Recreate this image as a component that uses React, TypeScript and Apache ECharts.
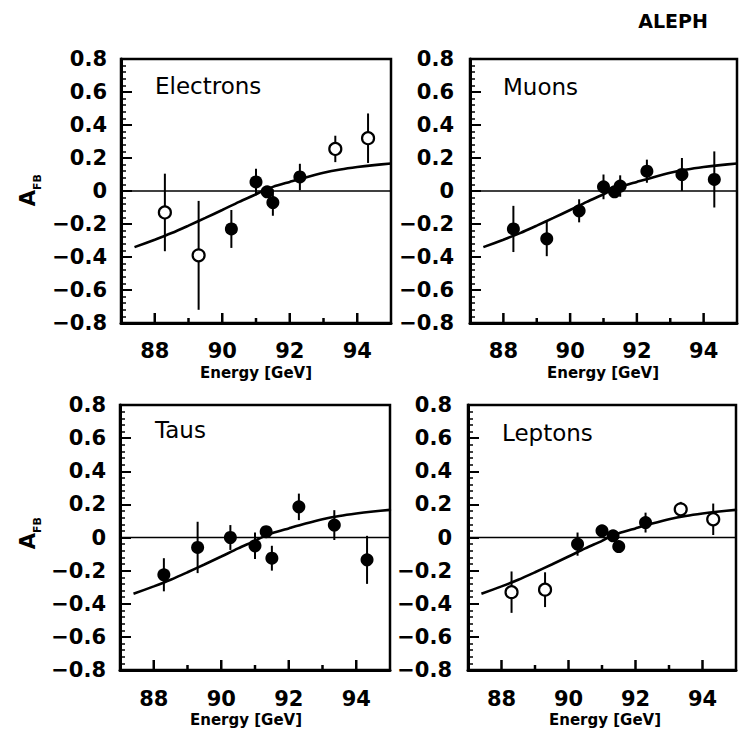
import React, { useEffect, useRef } from "react";
import * as echarts from "echarts";

// ---- data ----
const panelNames = ["Electrons", "Muons", "Taus", "Leptons"];
const energies = [88.3, 89.3, 90.27, 91.0, 91.33, 91.5, 92.3, 93.35, 94.32];

const electronsA = [-0.13, -0.39, -0.23, 0.055, -0.005, -0.07, 0.085, 0.255, 0.32];
const electronsErr = [0.235, 0.33, 0.115, 0.08, 0.03, 0.08, 0.08, 0.08, 0.15];
const electronsOpen = [true, true, false, false, false, false, false, true, true];

const muonsA = [-0.23, -0.29, -0.12, 0.025, -0.005, 0.03, 0.12, 0.1, 0.07];
const muonsErr = [0.14, 0.105, 0.07, 0.075, 0.03, 0.065, 0.07, 0.1, 0.17];
const muonsOpen = [false, false, false, false, false, false, false, false, false];

const tausA = [-0.225, -0.06, 0.0, -0.05, 0.035, -0.125, 0.185, 0.075, -0.135];
const tausErr = [0.1, 0.155, 0.075, 0.08, 0.03, 0.075, 0.08, 0.09, 0.145];
const tausOpen = [false, false, false, false, false, false, false, false, false];

const leptonsA = [-0.33, -0.315, -0.04, 0.04, 0.01, -0.055, 0.09, 0.17, 0.11];
const leptonsErr = [0.125, 0.105, 0.07, 0.03, 0.03, 0.03, 0.06, 0.045, 0.095];
const leptonsOpen = [true, true, false, false, false, false, false, true, true];

const curveE = [87.4, 88, 88.5, 89, 89.5, 90, 90.5, 91, 91.25, 91.5, 92, 92.5, 93, 93.5, 94, 94.5, 95];
const curveA = [-0.34, -0.295, -0.255, -0.21, -0.163, -0.115, -0.066, -0.02, 0.005, 0.025, 0.055, 0.084, 0.11, 0.13, 0.145, 0.157, 0.167];

const xMajorTicks = [88, 90, 92, 94];
const xMinorTicks = [89, 91, 93];
const xMin = 87;
const xMax = 95;
const yMin = -0.8;
const yMax = 0.8;

const panelA = [electronsA, muonsA, tausA, leptonsA];
const panelErr = [electronsErr, muonsErr, tausErr, leptonsErr];
const panelOpen = [electronsOpen, muonsOpen, tausOpen, leptonsOpen];

// ---- layout ----
const grids = [
  { left: 121, top: 59, width: 270, height: 264 },
  { left: 470, top: 59, width: 267, height: 264 },
  { left: 120, top: 405, width: 270, height: 265 },
  { left: 468, top: 405, width: 268, height: 265 },
];
const xLabelMargin = [17, 17, 18, 18];
const yLabelMargin = [14, 16, 14, 16];
const nameLabelPos = [
  [155, 85.5],
  [503, 86.5],
  [155, 430],
  [502, 433],
];
const energyLabelPos = [
  [256, 373],
  [603, 373],
  [246, 720],
  [605, 720],
];
const FONT = "DejaVu Sans";

function fmtY(v: number) {
  if (Math.abs(v) < 1e-9) return "0";
  return (v < 0 ? "\u2212" : "") + Math.abs(v).toFixed(1);
}

function buildOption() {
  const xAxis: any[] = [];
  const yAxis: any[] = [];
  const series: any[] = [];
  const graphic: any[] = [];

  grids.forEach((_, i) => {
    xAxis.push({
      type: "value",
      gridIndex: i,
      min: xMin,
      max: xMax,
      interval: 1,
      axisLine: { show: true, onZero: false, lineStyle: { color: "#000", width: 3 } },
      axisTick: { show: false },
      splitLine: { show: false },
      axisLabel: {
        formatter: (v: number) => (Math.round(v) % 2 === 0 ? String(Math.round(v)) : ""),
        margin: xLabelMargin[i],
        color: "#000",
        fontSize: 21,
        fontWeight: "bold",
        fontFamily: FONT,
      },
    });
    yAxis.push({
      type: "value",
      gridIndex: i,
      min: yMin,
      max: yMax,
      interval: 0.2,
      axisLine: { show: true, onZero: false, lineStyle: { color: "#000", width: 3 } },
      axisTick: { show: true, inside: true, length: 11, lineStyle: { color: "#000", width: 2 } },
      minorTick: { show: true, splitNumber: 5, length: 5, lineStyle: { color: "#000", width: 1.5 } },
      splitLine: { show: false },
      axisLabel: {
        formatter: fmtY,
        margin: yLabelMargin[i],
        color: "#000",
        fontSize: 21,
        fontWeight: "bold",
        fontFamily: FONT,
      },
    });

    const base = { xAxisIndex: i, yAxisIndex: i, silent: true };

    series.push({
      ...base,
      type: "line",
      data: [
        [xMin, 0],
        [xMax, 0],
      ],
      symbol: "none",
      lineStyle: { color: "#000", width: 1.5 },
      z: 2,
    });
    series.push({
      ...base,
      type: "line",
      data: curveE.map((e, j) => [e, curveA[j]]),
      smooth: 0.3,
      symbol: "none",
      lineStyle: { color: "#000", width: 2.6 },
      z: 3,
    });
    series.push({
      ...base,
      type: "custom",
      data: energies.map((e, j) => [e, panelA[i][j], panelErr[i][j]]),
      encode: { x: 0, y: 1 },
      renderItem: (params: any, api: any) => {
        const x = api.value(0);
        const y = api.value(1);
        const er = api.value(2);
        const p1 = api.coord([x, y - er]);
        const p2 = api.coord([x, y + er]);
        return {
          type: "line",
          shape: { x1: p1[0], y1: p1[1], x2: p2[0], y2: p2[1] },
          style: { stroke: "#000", lineWidth: 2 },
        };
      },
      z: 4,
    });
    series.push({
      ...base,
      type: "scatter",
      data: energies
        .map((e, j) => [e, panelA[i][j]])
        .filter((_, j) => !panelOpen[i][j]),
      symbol: "circle",
      symbolSize: 13,
      itemStyle: { color: "#000", opacity: 1 },
      z: 5,
    });
    const openData = energies
      .map((e, j) => [e, panelA[i][j]])
      .filter((_, j) => panelOpen[i][j]);
    if (openData.length) {
      series.push({
        ...base,
        type: "scatter",
        data: openData,
        symbol: "circle",
        symbolSize: 12,
        itemStyle: { color: "#fff", borderColor: "#000", borderWidth: 2.2, opacity: 1 },
        z: 5,
      });
    }
    const tickSeries = (ticks: number[], len: number) => ({
      ...base,
      type: "custom",
      data: ticks.map((t) => [t, yMin]),
      encode: { x: 0, y: 1 },
      renderItem: (params: any, api: any) => {
        const p = api.coord([api.value(0), api.value(1)]);
        return {
          type: "line",
          shape: { x1: p[0], y1: p[1], x2: p[0], y2: p[1] - len },
          style: { stroke: "#000", lineWidth: 2.5 },
        };
      },
      z: 6,
    });
    series.push(tickSeries(xMajorTicks, 10));
    series.push(tickSeries(xMinorTicks, 5));

    graphic.push({
      type: "text",
      x: nameLabelPos[i][0],
      y: nameLabelPos[i][1],
      style: {
        text: panelNames[i],
        fontSize: 23,
        fontFamily: FONT,
        fill: "#000",
        align: "left",
        verticalAlign: "middle",
      },
    });
    graphic.push({
      type: "text",
      x: energyLabelPos[i][0],
      y: energyLabelPos[i][1],
      style: {
        text: "Energy [GeV]",
        fontSize: 15,
        fontFamily: FONT,
        fontWeight: "bold",
        fill: "#000",
        align: "center",
        verticalAlign: "middle",
      },
    });
  });

  const afbA = [
    [28, 198],
    [28, 541],
  ];
  const afbSub = [
    [37, 182],
    [37, 525],
  ];
  afbA.forEach((p, k) => {
    graphic.push({
      type: "text",
      x: p[0],
      y: p[1],
      rotation: Math.PI / 2,
      style: {
        text: "A",
        fontSize: 21,
        fontWeight: "bold",
        fontFamily: FONT,
        fill: "#000",
        align: "center",
        verticalAlign: "middle",
      },
    });
    graphic.push({
      type: "text",
      x: afbSub[k][0],
      y: afbSub[k][1],
      rotation: Math.PI / 2,
      style: {
        text: "FB",
        fontSize: 11,
        fontWeight: "bold",
        fontFamily: FONT,
        fill: "#000",
        align: "center",
        verticalAlign: "middle",
      },
    });
  });

  graphic.push({
    type: "text",
    x: 673,
    y: 21,
    style: {
      text: "ALEPH",
      fontSize: 19,
      fontFamily: FONT,
      fontWeight: "bold",
      fill: "#000",
      align: "center",
      verticalAlign: "middle",
    },
  });

  return {
    animation: false,
    backgroundColor: "#fff",
    grid: grids.map((g) => ({
      ...g,
      show: true,
      borderColor: "#000",
      borderWidth: 2.5,
    })),
    xAxis,
    yAxis,
    series,
    graphic,
  };
}

export default function App() {
  const ref = useRef<HTMLDivElement>(null);
  useEffect(() => {
    document.body.style.margin = "0";
    if (!ref.current) return;
    const chart = echarts.init(ref.current, undefined, { renderer: "svg" });
    chart.setOption(buildOption());
    return () => chart.dispose();
  }, []);
  return <div ref={ref} style={{ width: 746, height: 734 }} />;
}
